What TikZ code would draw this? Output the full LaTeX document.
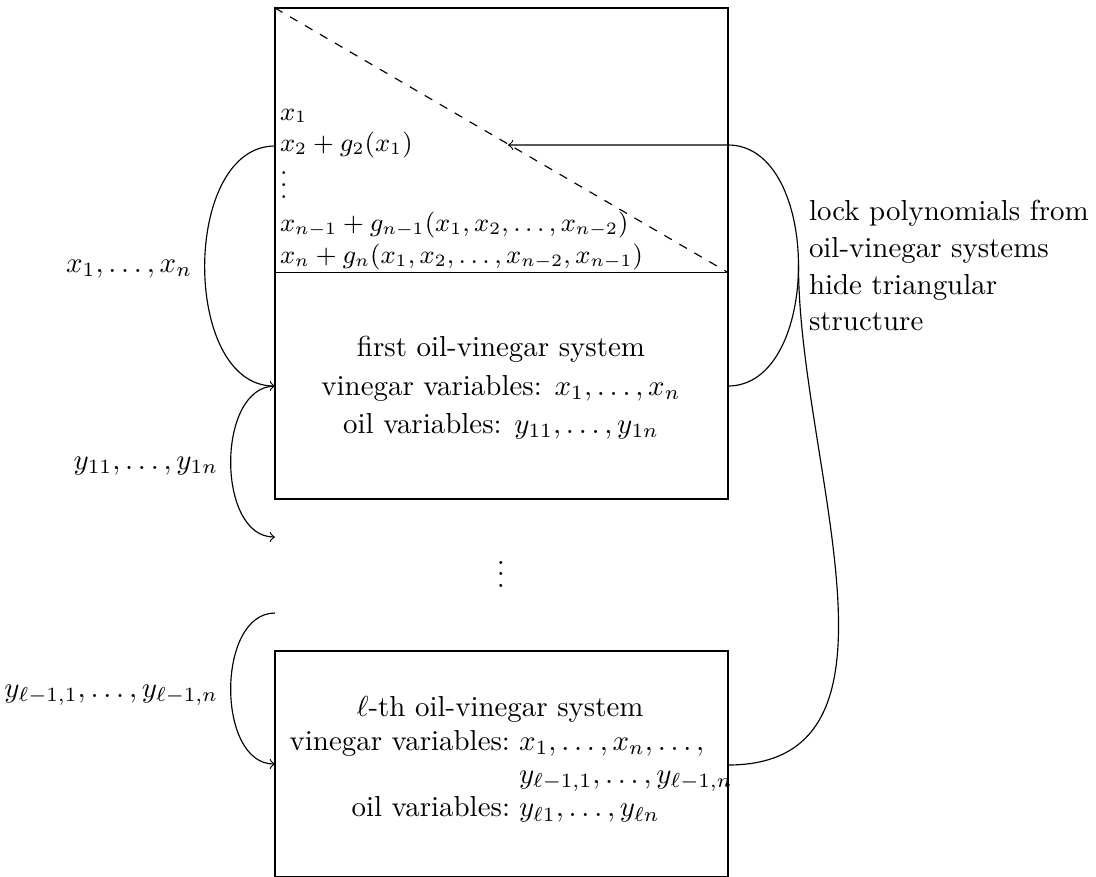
\documentclass[tikz,border=0pt]{standalone}
\usetikzlibrary{arrows}
\begin{document}
\begin{tikzpicture}[x=0.346pt,y=-0.346pt,
  txt/.style={inner sep=0pt, outer sep=0pt},
  small/.style={txt, font=\small, anchor=base west},
  conn/.style={->},
  plain/.style={}]
\useasboundingbox (0,0) rectangle (1096,876);
% boxes
\draw (275,8) rectangle (728,499);
\draw (275,272.5) -- (728,272.5);
\draw (275,651) rectangle (728,877);
\draw[dashed] (275,8) -- (728,272.5);
% upper triangular part
\node[small] (t1) at (280,120) {$x_1$};
\node[small] (t2) at (280,151.7) {$x_2+g_2(x_1)$};
\node[small] (t3) at (280,198) {$\vdots$};
\node[small] (t4) at (280,231.7) {$x_{n-1}+g_{n-1}(x_1,x_2,\ldots,x_{n-2})$};
\node[small] (t5) at (280,263.5) {$x_n+g_n(x_1,x_2,\ldots,x_{n-2},x_{n-1})$};
% first system
\node[txt, anchor=base] (s1a) at (501,356.7) {first oil-vinegar system};
\node[txt, anchor=base] (s1b) at (501,395) {vinegar variables: $x_1,\ldots,x_n$};
\node[txt, anchor=base] (s1c) at (501,433) {oil variables: $y_{11},\ldots,y_{1n}$};
% dots
\node[txt, anchor=base] (mid) at (501,587.5) {$\vdots$};
% l-th system
\node[txt, anchor=base] (s2a) at (500,716.7) {$\ell$-th oil-vinegar system};
\node[txt, anchor=base east] (s2b) at (510,750) {vinegar variables:};
\node[txt, anchor=base west] (s2c) at (519,750) {$x_1,\ldots,x_n,\ldots,$};
\node[txt, anchor=base west] (s2d) at (519,783) {$y_{\ell-1,1},\ldots,y_{\ell-1,n}$};
\node[txt, anchor=base east] (s2e) at (510,816.7) {oil variables:};
\node[txt, anchor=base west] (s2f) at (519,816.7) {$y_{\ell 1},\ldots,y_{\ell n}$};
% left labels
\node[txt, anchor=base east] (lx) at (192,272) {$x_1,\ldots,x_n$};
\node[txt, anchor=base east] (ly1) at (218,469) {$y_{11},\ldots,y_{1n}$};
\node[txt, anchor=base east] (lyl) at (218,697) {$y_{\ell-1,1},\ldots,y_{\ell-1,n}$};
% right label
\node[txt, anchor=base west] (r1) at (809,220.7) {lock polynomials from};
\node[txt, anchor=base west] (r2) at (809,257.7) {oil-vinegar systems};
\node[txt, anchor=base west] (r3) at (809,294.3) {hide triangular};
\node[txt, anchor=base west] (r4) at (809,330) {structure};
% connector end points
\coordinate (aS) at (275,146);
\coordinate (aE) at (275,386);
\coordinate (bE) at (275,537);
\coordinate (cS) at (275,613);
\coordinate (cE) at (275,764);
\coordinate (dS) at (728,386);
\coordinate (dM) at (728,145);
\coordinate (dE) at (508,145);
\coordinate (eS) at (728,765);
% connectors
\draw[conn] (aS) to[out=180,in=180] (aE);
\draw[conn] (aE) to[out=180,in=180] (bE);
\draw[conn] (cS) to[out=180,in=180] (cE);
\draw[conn] (dS) to[out=0,in=0] coordinate[pos=0.5] (dR) (dM) -- (dE);
\draw[plain] (eS) to[out=0,in=-90] (dR);
\end{tikzpicture}
\end{document}
